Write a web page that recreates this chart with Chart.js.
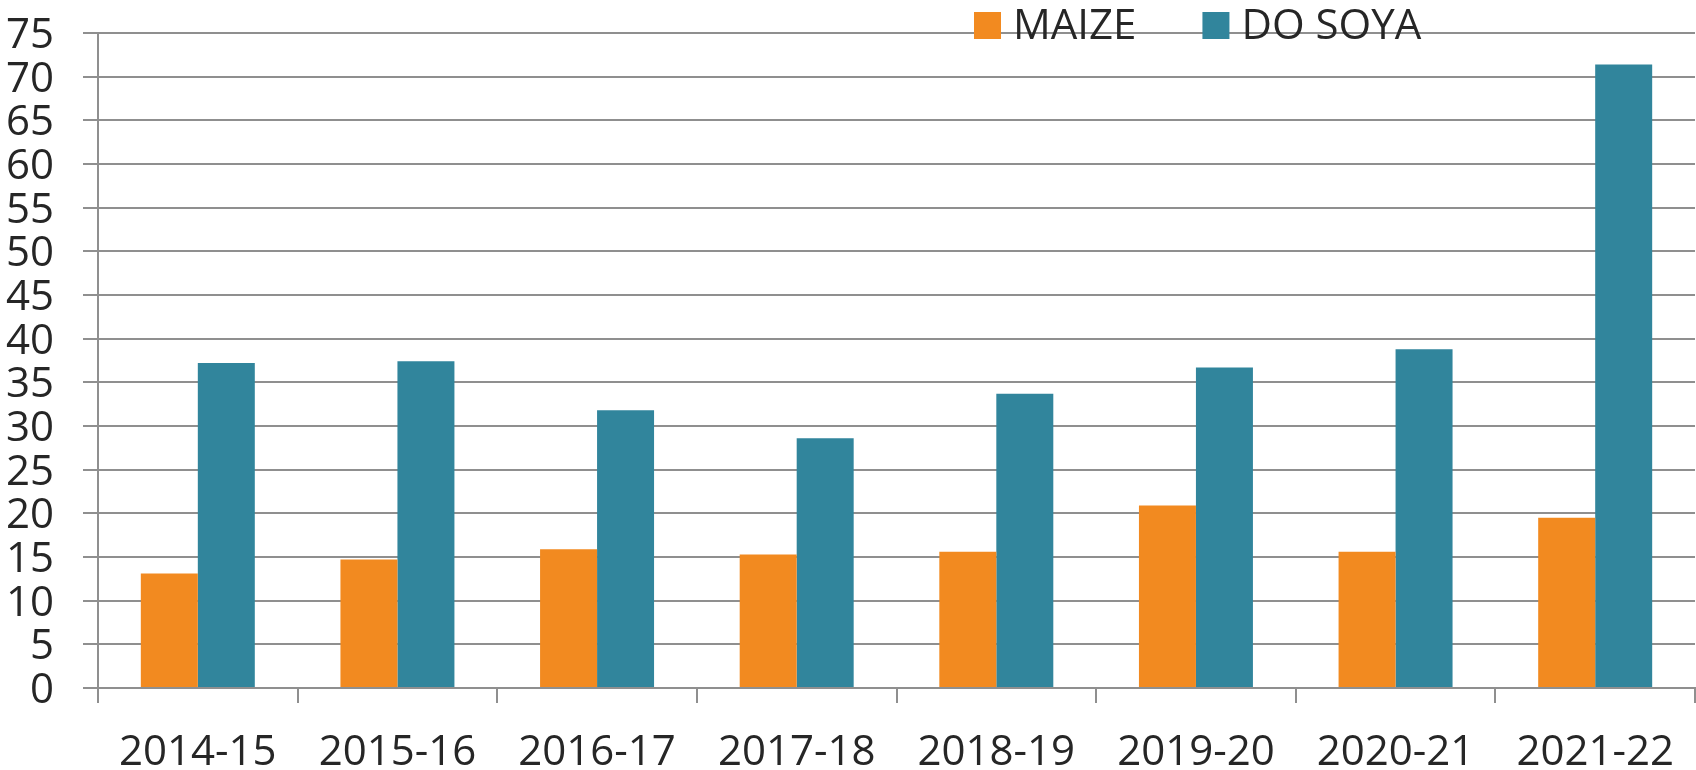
<!DOCTYPE html>
<html>
<head>
<meta charset="utf-8">
<script src="https://cdn.jsdelivr.net/npm/chart.js@4/dist/chart.umd.min.js"></script>
<style>
  html, body { margin: 0; padding: 0; background: #fff; }
  #wrap { width: 1696px; height: 770px; }
</style>
</head>
<body>
<div id="wrap"><canvas id="chart" width="1696" height="770"></canvas></div>
<script>
/* global Chart */

// --- data ---
const seasons = ['2014-15', '2015-16', '2016-17', '2017-18', '2018-19', '2019-20', '2020-21', '2021-22'];
const maize   = [13.1, 14.7, 15.9, 15.3, 15.6, 20.9, 15.6, 19.5];
const doSoya  = [37.2, 37.4, 31.8, 28.6, 33.7, 36.7, 38.8, 71.4];
const yTicks  = [0, 5, 10, 15, 20, 25, 30, 35, 40, 45, 50, 55, 60, 65, 70, 75];

const FONT = '"Open Sans", "Noto Sans", sans-serif';
const TEXT = '#262626';
const GRID = '#8f8f8f';

// legend drawn over the top of the plot, like the original
const topLegend = {
  id: 'topLegend',
  afterDraw(chart) {
    const { ctx } = chart;
    ctx.save();
    ctx.font = `42px ${FONT}`;
    ctx.textBaseline = 'alphabetic';
    let x = 974;
    chart.data.datasets.forEach((ds) => {
      ctx.fillStyle = ds.backgroundColor;
      ctx.fillRect(x, 12, 27, 27);
      ctx.fillStyle = TEXT;
      ctx.fillText(ds.label, x + 39, 39);
      x += 39 + ctx.measureText(ds.label).width + 66;
    });
    ctx.restore();
  },
};

new Chart(document.getElementById('chart'), {
  type: 'bar',
  data: {
    labels: seasons,
    datasets: [
      { label: 'MAIZE',   data: maize,  backgroundColor: '#F28A20' },
      { label: 'DO SOYA', data: doSoya, backgroundColor: '#31859C' },
    ],
  },
  options: {
    responsive: false,
    animation: false,
    layout: { padding: { top: 33, right: 1, left: 0, bottom: 0 } },
    datasets: {
      bar: { categoryPercentage: 0.571, barPercentage: 1.0, borderWidth: 0 },
    },
    plugins: {
      legend:  { display: false },
      tooltip: { enabled: false },
    },
    scales: {
      x: {
        grid: {
          offset: true,
          drawOnChartArea: false,
          drawTicks: true,
          tickLength: 15,
          color: GRID,
          lineWidth: 2,
        },
        border: { color: GRID, width: 2 },
        ticks: {
          padding: 25,
          color: TEXT,
          font: { family: FONT, size: 42 },
          maxRotation: 0,
          autoSkip: false,
        },
        afterFit: (scale) => {
          scale.height = 82;
          scale.paddingLeft = 0;
          scale.paddingRight = 0;
        },
      },
      y: {
        min: 0,
        max: 75,
        afterBuildTicks: (scale) => { scale.ticks = yTicks.map((v) => ({ value: v })); },
        grid: {
          color: GRID,
          lineWidth: 2,
          drawTicks: true,
          tickLength: 15,
        },
        border: { color: GRID, width: 2 },
        ticks: {
          padding: 29,
          labelOffset: 3,
          autoSkip: false,
          color: TEXT,
          font: { family: FONT, size: 42 },
        },
        afterFit: (scale) => {
          scale.width = 98;
          scale.paddingTop = 0;
          scale.paddingBottom = 0;
        },
      },
    },
  },
  plugins: [topLegend],
});
</script>
</body>
</html>
